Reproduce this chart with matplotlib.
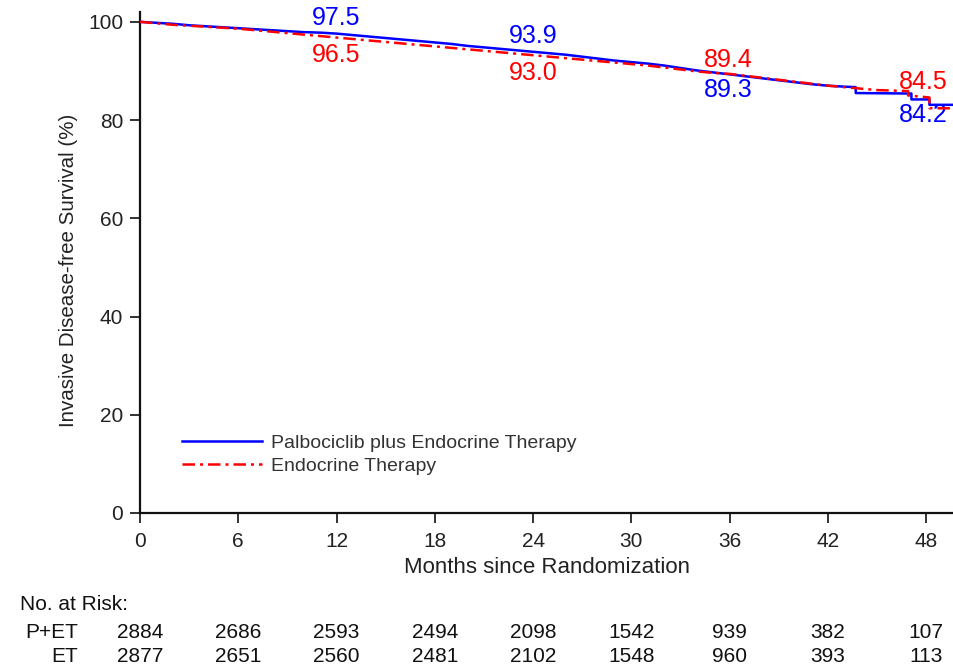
import matplotlib
matplotlib.use("Agg")
import matplotlib.pyplot as plt
import matplotlib.transforms as mtransforms

plt.rcParams['font.family'] = ['Liberation Sans', 'DejaVu Sans']

# Data (months, survival %)
pet_t = [0, 1, 2, 3, 4, 5, 6, 7, 8, 9, 10, 11, 12, 13, 14, 15, 16, 17, 18, 19, 20,
         21, 22, 23, 24, 25, 26, 27, 28, 29, 30, 31, 32, 33, 34, 35, 36, 37, 38, 39,
         40, 41, 42, 43, 43.7, 43.7, 47.1, 47.1, 48.2, 48.2, 49.7]
pet_s = [100, 99.8, 99.6, 99.3, 99.1, 98.9, 98.7, 98.5, 98.3, 98.1, 97.9, 97.8, 97.6,
         97.3, 97.0, 96.7, 96.4, 96.1, 95.8, 95.5, 95.1, 94.8, 94.5, 94.2, 93.9, 93.6,
         93.3, 92.9, 92.5, 92.1, 91.8, 91.5, 91.1, 90.6, 90.1, 89.7, 89.3, 88.9, 88.5,
         88.1, 87.7, 87.3, 87.0, 86.8, 86.7, 85.5, 85.4, 84.2, 84.2, 83.1, 83.1]
et_t = [0, 1, 2, 3, 4, 5, 6, 7, 8, 9, 10, 11, 12, 13, 14, 15, 16, 17, 18, 19, 20,
        21, 22, 23, 24, 25, 26, 27, 28, 29, 30, 31, 32, 33, 34, 35, 36, 37, 38, 39,
        40, 41, 42, 43, 44, 45, 46, 46.9, 46.9, 48.2, 48.2, 49.7]
et_s = [100, 99.7, 99.4, 99.2, 99.0, 98.8, 98.6, 98.3, 98.0, 97.7, 97.4, 97.1, 96.8,
        96.5, 96.2, 95.9, 95.6, 95.3, 95.0, 94.7, 94.4, 94.1, 93.8, 93.5, 93.2, 92.9,
        92.6, 92.3, 92.0, 91.7, 91.4, 91.1, 90.7, 90.3, 89.9, 89.6, 89.4, 89.0, 88.6,
        88.2, 87.8, 87.4, 87.0, 86.7, 86.4, 86.1, 86.0, 85.9, 85.0, 84.6, 82.4, 82.4]

label_months = [12, 24, 36, 48]
pet_labels = ["97.5", "93.9", "89.3", "84.2"]
et_labels = ["96.5", "93.0", "89.4", "84.5"]

risk_months = [0, 6, 12, 18, 24, 30, 36, 42, 48]
pet_risk = [2884, 2686, 2593, 2494, 2098, 1542, 939, 382, 107]
et_risk = [2877, 2651, 2560, 2481, 2102, 1548, 960, 393, 113]

blue = '#0000ff'
red = '#ff0000'
txt = '#222222'

W, H = 954, 669
fig = plt.figure(figsize=(W / 100, H / 100), dpi=100)
ax_l, ax_b, ax_t = 140, 513, 12
ax_w = W - ax_l
ax = fig.add_axes([ax_l / W, 1 - ax_b / H, ax_w / W, (ax_b - ax_t) / H])

ax.plot(pet_t, pet_s, color=blue, lw=1.8,
        label='Palbociclib plus Endocrine Therapy', zorder=3)
ax.plot(et_t, et_s, color=red, lw=1.8, dashes=(5, 2, 1.2, 2),
        label='Endocrine Therapy', zorder=4)

ax.set_xlim(0, 49.7)
ax.set_ylim(0, 102)
ax.set_xticks(risk_months)
ax.set_yticks([0, 20, 40, 60, 80, 100])
ax.tick_params(axis='both', labelsize=15, length=7, width=1.3, direction='out',
               colors='#222222', labelcolor=txt)
ax.tick_params(axis='x', pad=7)
ax.tick_params(axis='y', pad=5)
for s in ['top', 'right']:
    ax.spines[s].set_visible(False)
for s in ['left', 'bottom']:
    ax.spines[s].set_linewidth(1.6)
    ax.spines[s].set_color('#111111')

ax.set_xlabel('Months since Randomization', fontsize=16, color=txt, labelpad=4)
ax.set_ylabel('Invasive Disease-free Survival (%)', fontsize=14.8, color=txt)
ax.yaxis.label.set_va('center')
ax.yaxis.set_label_coords((69 - ax_l) / ax_w, (ax_b - 270) / (ax_b - ax_t))

# annotation label pixel rows (y centre) for each month
ypx_per_unit = (ax_b - ax_t) / 102.0
blue_ypix = [18, 36, 90, 115]
red_ypix = [55, 73, 60, 82]
label_x = [12, 24, 35.9, 47.8]
for x, lab, yp in zip(label_x, pet_labels, blue_ypix):
    ax.text(x, (ax_b - yp) / ypx_per_unit, lab, color=blue, fontsize=18,
            ha='center', va='center')
for x, lab, yp in zip(label_x, et_labels, red_ypix):
    ax.text(x, (ax_b - yp) / ypx_per_unit, lab, color=red, fontsize=18,
            ha='center', va='center')

leg = fig.legend(loc='upper left', bbox_to_anchor=(182 / W, 1 - 434 / H),
                 frameon=False, fontsize=14, handlelength=4.1, handletextpad=0.5,
                 labelspacing=0.3, borderpad=0, borderaxespad=0)
for t in leg.get_texts():
    t.set_color('#333333')

# risk table
trans = mtransforms.blended_transform_factory(ax.transData, fig.transFigure)
fs_tab = 15
fig.text(20 / W, 1 - 604 / H, 'No. at Risk:', fontsize=fs_tab, color='#111111',
         va='center', ha='left')
fig.text(78 / W, 1 - 632 / H, 'P+ET', fontsize=fs_tab, color='#111111', va='center', ha='right')
fig.text(78 / W, 1 - 657 / H, 'ET', fontsize=fs_tab, color='#111111', va='center', ha='right')
for m, a, b in zip(risk_months, pet_risk, et_risk):
    ax.text(m, 1 - 632 / H, str(a), transform=trans, fontsize=fs_tab, color='#111111',
            ha='center', va='center', clip_on=False)
    ax.text(m, 1 - 657 / H, str(b), transform=trans, fontsize=fs_tab, color='#111111',
            ha='center', va='center', clip_on=False)

fig.savefig('out.png', dpi=100)
